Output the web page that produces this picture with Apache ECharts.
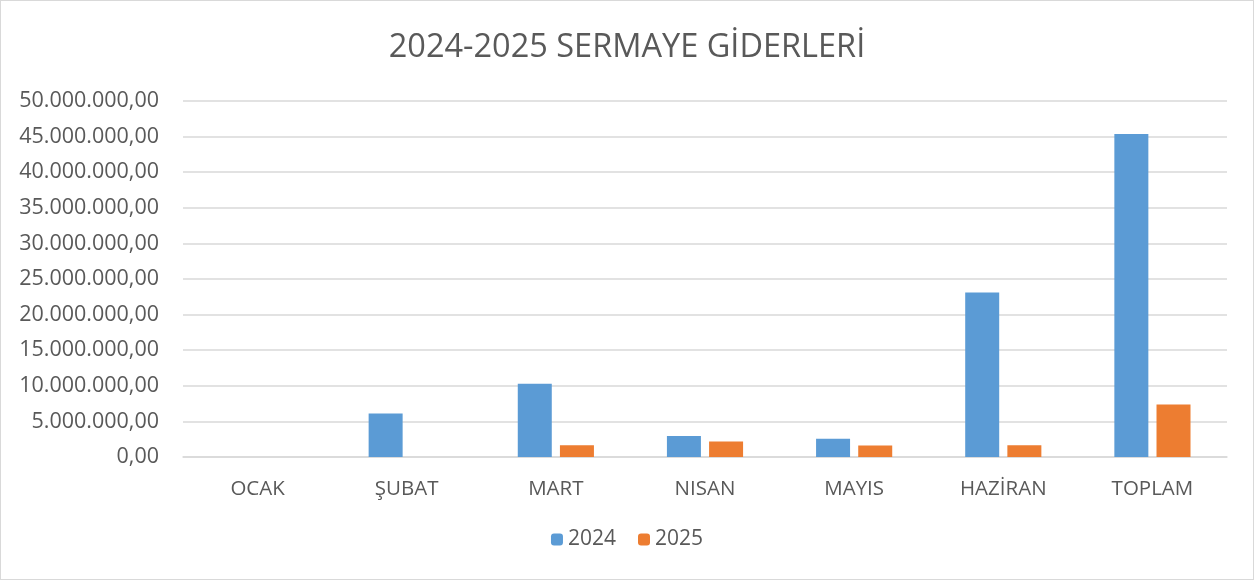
<!DOCTYPE html>
<html><head><meta charset="utf-8">
<script src="https://cdn.jsdelivr.net/npm/echarts@6/dist/echarts.min.js"></script>
<style>html,body{margin:0;padding:0;background:#fff}#c{width:1252px;height:578px;border:1px solid #d9d9d9}</style>
</head><body><div id="c"></div>
<script>
const categories = ['OCAK','ŞUBAT','MART','NISAN','MAYIS','HAZİRAN','TOPLAM'];
const values2024 = [0, 6100000, 10300000, 2950000, 2580000, 23100000, 45370000];
const values2025 = [0, 0, 1660000, 2160000, 1630000, 1650000, 7380000];
const seriesNames = ['2024', '2025'];

function fmt(v){
  const s = Math.round(v).toString().replace(/\B(?=(\d{3})+(?!\d))/g, '.');
  return s + ',00';
}
const chart = echarts.init(document.getElementById('c'));
const font = '"Open Sans", "DejaVu Sans", sans-serif';
chart.setOption({
  animation:false,
  textStyle:{fontFamily:font},
  title:{text:'2024-2025 SERMAYE GİDERLERİ', left:'center', top:25,
    textStyle:{fontSize:32.5, fontWeight:'normal', color:'#595959', fontFamily:font}},
  legend:{bottom:24, left:'center', itemWidth:12, itemHeight:12, itemGap:22,
    textStyle:{fontSize:21, color:'#595959'}, data:seriesNames},
  grid:{left:182, right:26, top:100, bottom:122, containLabel:false},
  xAxis:{type:'category', data:categories,
    axisLine:{lineStyle:{color:'#d9d9d9', width:1.5}}, axisTick:{show:false},
    axisLabel:{fontSize:20.5, color:'#595959', margin:22}},
  yAxis:{type:'value', min:0, max:50000000, interval:5000000,
    axisLine:{show:false}, axisTick:{show:false},
    splitLine:{lineStyle:{color:'#d9d9d9', width:1.5}},
    axisLabel:{fontSize:21.5, color:'#595959', margin:24, formatter:fmt}},
  series:[
    {name:seriesNames[0], type:'bar', data:values2024, barWidth:34, barGap:'24%',
      itemStyle:{color:'#5b9bd5'}},
    {name:seriesNames[1], type:'bar', data:values2025, barWidth:34,
      itemStyle:{color:'#ed7d31'}}
  ]
});
</script></body></html>
